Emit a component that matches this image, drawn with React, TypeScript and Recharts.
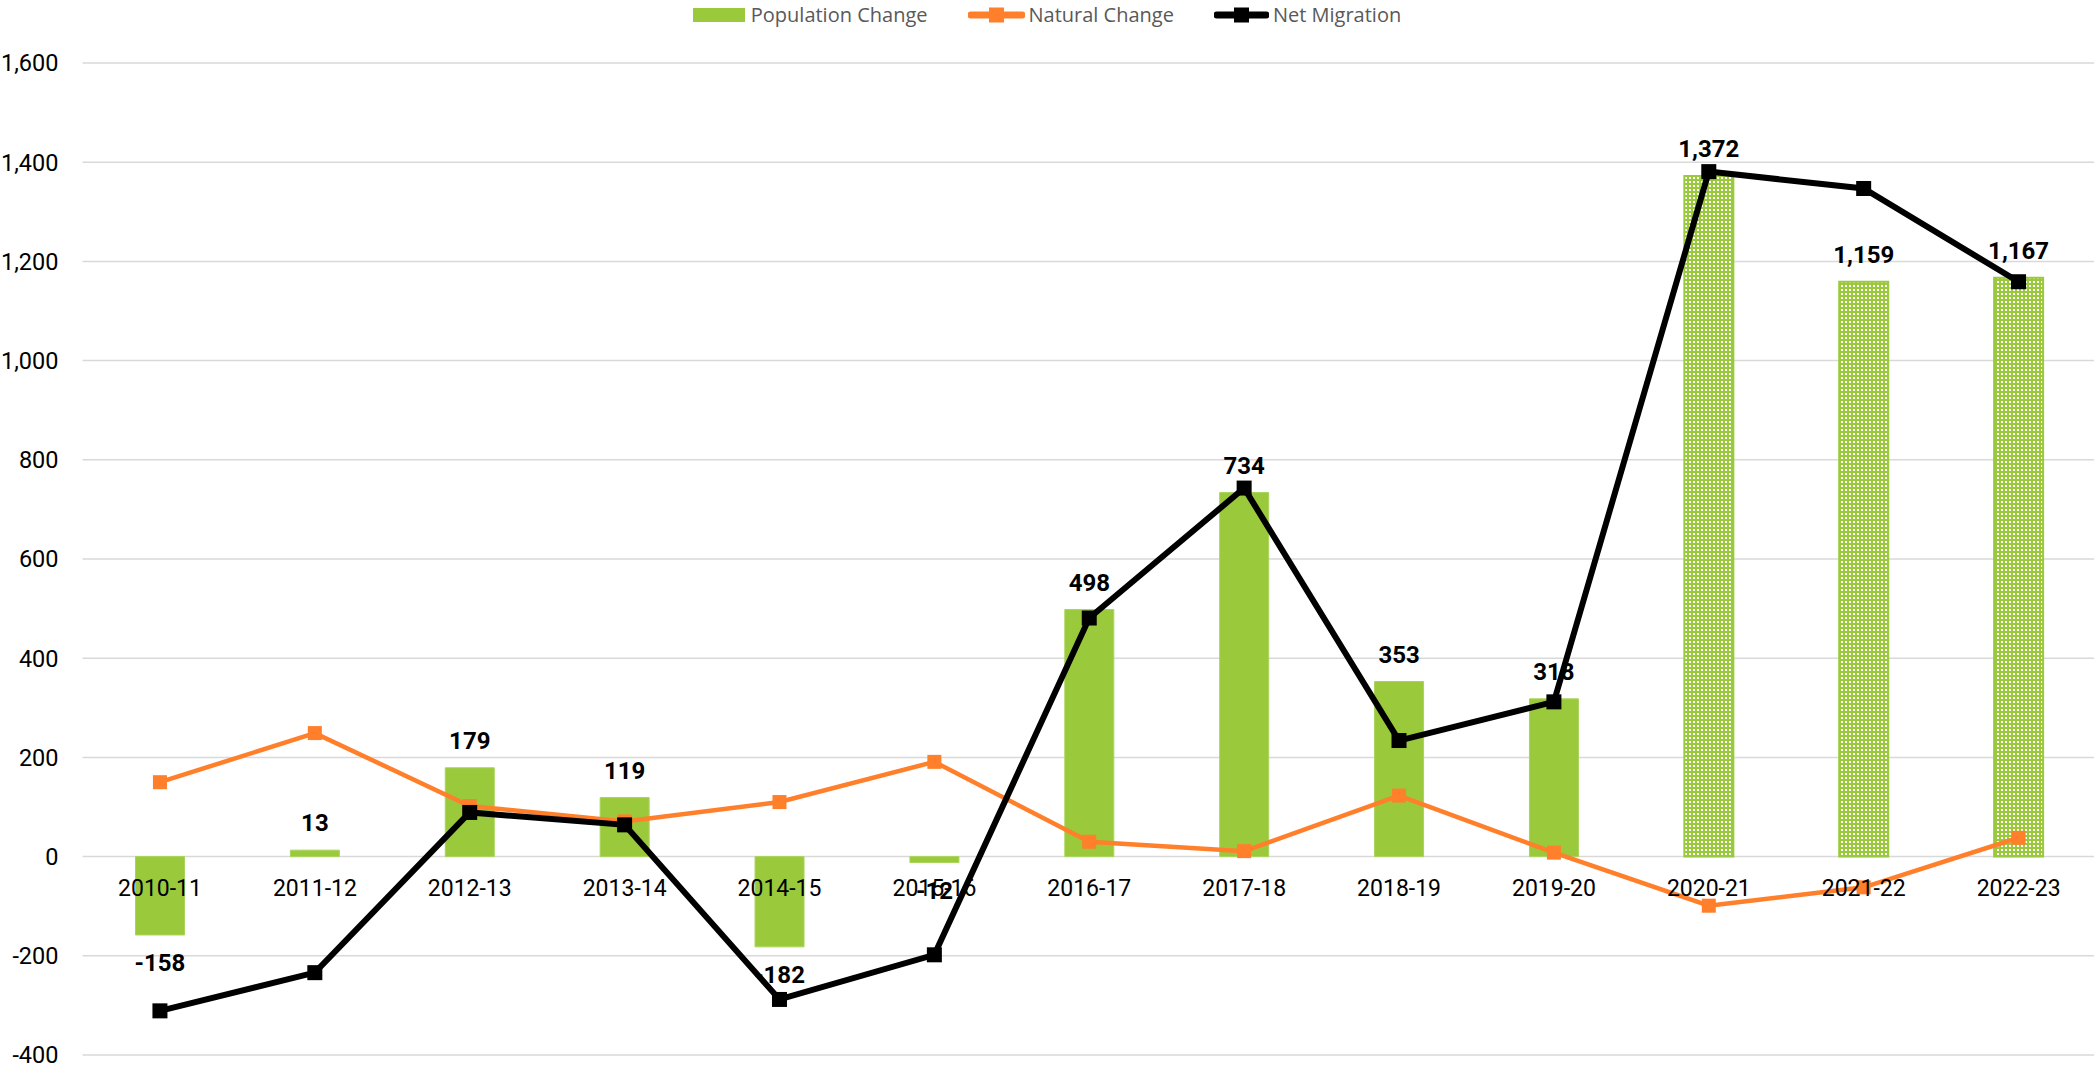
import React from 'react';
import { ComposedChart, Bar, Line, XAxis, YAxis, CartesianGrid, LabelList, Cell } from 'recharts';

const years = ['2010-11', '2011-12', '2012-13', '2013-14', '2014-15', '2015-16', '2016-17', '2017-18', '2018-19', '2019-20', '2020-21', '2021-22', '2022-23'];
const populationChange = [-158, 13, 179, 119, -182, -12, 498, 734, 353, 318, 1372, 1159, 1167];
const naturalChange = [150, 249, 102, 71, 110, 191, 30, 11, 123, 8, -99, -62, 38];
const netMigration = [-311, -234, 89, 64, -288, -198, 481, 743, 234, 312, 1381, 1347, 1159];
const hatchedFrom = '2020-21';
const yTicks = [-400, -200, 0, 200, 400, 600, 800, 1000, 1200, 1400, 1600];

const GREEN = '#9ACA3C';
const ORANGE = '#FF7F2A';
const BLACK = '#000000';

const data = years.map((y, i) => ({
  year: y,
  pop: populationChange[i],
  natural: naturalChange[i],
  migration: netMigration[i],
}));

const hatchIndex = years.indexOf(hatchedFrom);

const fmt = (v: number) => Number(v).toLocaleString('en-US');

const squareDot = (color: string, size: number) => (props: any) => {
  const { cx, cy, index } = props;
  if (cx == null || cy == null) return <g key={`d-${index}`} />;
  return <rect key={`d-${index}`} x={cx - size / 2} y={cy - size / 2} width={size} height={size} fill={color} />;
};

const ValueLabel = (props: any) => {
  const { x, y, width, height, value } = props;
  const top = Math.min(y, y + height);
  const bottom = Math.max(y, y + height);
  const cx = x + width / 2;
  const ty = value < 0 ? bottom + 36 : top - 19;
  return (
    <text x={cx} y={ty} textAnchor="middle" fontFamily="Roboto" fontWeight="bold" fontSize={24} fill="#000">
      {fmt(value)}
    </text>
  );
};

const CategoryLabel = (props: any) => {
  const { x, y, width, height, value, index } = props;
  const v = populationChange[index];
  const zeroY = v >= 0 ? Math.max(y, y + height) : Math.min(y, y + height);
  return (
    <text x={x + width / 2} y={zeroY + 39} textAnchor="middle" fontFamily="Roboto" fontSize={23} fill="#000">
      {value}
    </text>
  );
};

const LegendOverlay = () => {
  const item = (icon: React.ReactNode, label: string, gap: number) => (
    <div style={{ display: 'flex', alignItems: 'center' }}>
      {icon}
      <span style={{ marginLeft: gap, fontFamily: '"Open Sans"', fontSize: 20, color: '#595959', lineHeight: '30px' }}>{label}</span>
    </div>
  );
  const lineIcon = (color: string, w: number) => (
    <svg width={w} height={16} style={{ display: 'block' }}>
      <line x1={3} y1={8} x2={w - 3} y2={8} stroke={color} strokeWidth={7} strokeLinecap="round" />
      <rect x={w / 2 - 7.5} y={0.5} width={15} height={15} fill={color} />
    </svg>
  );
  return (
    <div style={{ position: 'absolute', left: 0, top: 0, width: 2094, height: 30, display: 'flex', justifyContent: 'center', alignItems: 'center', gap: 40 }}>
      {item(<div style={{ width: 52, height: 14, background: GREEN }} />, 'Population Change', 6)}
      {item(lineIcon(ORANGE, 57), 'Natural Change', 4)}
      {item(lineIcon(BLACK, 55), 'Net Migration', 4)}
    </div>
  );
};

export default function App() {
  return (
    <div style={{ position: 'absolute', left: 0, top: 0, width: 2094, height: 1068, overflow: 'hidden', background: '#fff' }}>
      <ComposedChart width={2096} height={1068} data={data} margin={{ top: 63, right: 0, bottom: 13, left: 0 }}>
        <defs>
          <pattern id="dots" patternUnits="userSpaceOnUse" width={4} height={4}>
            <rect x={0} y={0} width={4} height={4} fill={GREEN} />
            <rect x={1} y={1} width={2} height={2} fill="#ffffff" />
          </pattern>
        </defs>
        <CartesianGrid horizontal vertical={false} stroke="#D9D9D9" strokeWidth={1.5} />
        <XAxis dataKey="year" hide />
        <YAxis
          domain={[-400, 1600]}
          ticks={yTicks}
          width={82.5}
          tickLine={false}
          axisLine={false}
          tickSize={0}
          tickMargin={24}
          tickFormatter={fmt}
          tick={{ fontFamily: 'Roboto', fontSize: 23.5, fill: '#000' }}
          interval={0}
        />
        <Bar dataKey="pop" barSize={49} isAnimationActive={false}>
          {data.map((d, i) => (
            <Cell
              key={d.year}
              fill={i >= hatchIndex ? 'url(#dots)' : GREEN}
              stroke={i >= hatchIndex ? GREEN : '#A9D45A'}
              strokeWidth={i >= hatchIndex ? 2 : 1}
            />
          ))}
          <LabelList dataKey="pop" content={ValueLabel} />
          <LabelList dataKey="year" content={CategoryLabel} />
        </Bar>
        <Line dataKey="natural" stroke={ORANGE} strokeWidth={4.5} dot={squareDot(ORANGE, 14)} activeDot={false} isAnimationActive={false} />
        <Line dataKey="migration" stroke={BLACK} strokeWidth={6} dot={squareDot(BLACK, 15)} activeDot={false} isAnimationActive={false} />
      </ComposedChart>
      <LegendOverlay />
    </div>
  );
}
